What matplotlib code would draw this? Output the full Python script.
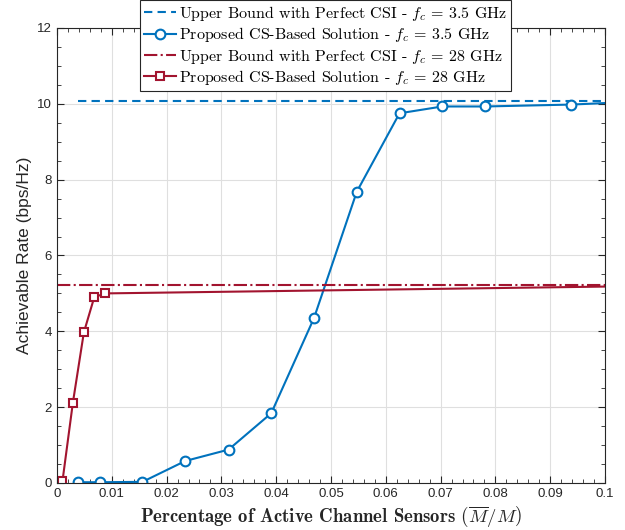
import numpy as np
import matplotlib
matplotlib.use('Agg')
import matplotlib.pyplot as plt
from matplotlib.ticker import MultipleLocator

plt.rcParams['mathtext.fontset'] = 'cm'

# data
x_35 = [0.0039, 0.0078, 0.0156, 0.0234, 0.0313, 0.0391, 0.0469, 0.0547,
        0.0625, 0.0703, 0.0781, 0.0938, 0.1]
rate_35 = [0.02, 0.02, 0.03, 0.58, 0.88, 1.84, 4.35, 7.68, 9.75, 9.93, 9.93, 9.98, 10.02]
bound_35_x = [0.0039, 0.1]
bound_35 = [10.08, 10.08]

x_28 = [0.0002, 0.001, 0.0029, 0.0049, 0.0068, 0.0088, 0.1]
rate_28 = [0.0, 0.05, 2.12, 3.97, 4.9, 5.0, 5.18]
bound_28_x = [0.0, 0.1]
bound_28 = [5.22, 5.22]

blue = '#0072BD'
red = '#A2142F'
dark = '#262626'

fig = plt.figure(figsize=(6.25, 5.3), dpi=100)
ax = fig.add_axes([0.0912, 0.0887, 0.8768, 0.8585])

ax.plot(bound_35_x, bound_35, '--', color=blue, lw=1.5, dashes=(4, 2.5),
        label=r'Upper Bound with Perfect CSI - $f_c$ = 3.5 GHz')
ax.plot(x_35, rate_35, '-o', color=blue, lw=1.5, ms=7, mfc='white', mew=1.5,
        markevery=list(range(len(x_35) - 1)),
        label=r'Proposed CS-Based Solution - $f_c$ = 3.5 GHz')
ax.plot(bound_28_x, bound_28, '-.', color=red, lw=1.5,
        label=r'Upper Bound with Perfect CSI - $f_c$ = 28 GHz')
ax.plot(x_28, rate_28, '-s', color=red, lw=1.5, ms=6, mfc='white', mew=1.5,
        markevery=list(range(len(x_28) - 1)),
        label=r'Proposed CS-Based Solution - $f_c$ = 28 GHz')

ax.set_xlim(0, 0.1)
ax.set_ylim(0, 12)
ax.set_xticks(np.arange(0, 0.1001, 0.01))
ax.set_xticklabels(['0', '0.01', '0.02', '0.03', '0.04', '0.05', '0.06',
                    '0.07', '0.08', '0.09', '0.1'])
ax.xaxis.set_minor_locator(MultipleLocator(0.002))
ax.yaxis.set_major_locator(MultipleLocator(2))
ax.yaxis.set_minor_locator(MultipleLocator(0.5))

ax.grid(True, which='major', color='#dfdfdf', lw=0.8)
ax.set_axisbelow(True)
ax.tick_params(which='both', direction='in', top=True, right=True,
               colors=dark, labelsize=9.5, labelcolor=dark)
ax.tick_params(which='major', length=5)
ax.tick_params(which='minor', length=3)
for tl in ax.get_xticklabels() + ax.get_yticklabels():
    tl.set_family('Liberation Sans')
for s in ax.spines.values():
    s.set_color(dark)
    s.set_linewidth(0.8)

ax.set_ylabel('Achievable Rate (bps/Hz)', family='Liberation Sans', fontsize=12.5,
              color=dark, labelpad=4)
ax.set_xlabel(r'Percentage of Active Channel Sensors $\left(\overline{M}/M\right)$',
              family='cmb10', fontsize=13.5, color=dark, labelpad=3)

leg = ax.legend(loc='upper center', bbox_to_anchor=(0.49, 1.062),
                prop={'family': 'cmr10', 'size': 11.5}, frameon=True,
                fancybox=False, framealpha=1, edgecolor=dark,
                labelspacing=0.15, handlelength=2.0, handletextpad=0.2,
                borderpad=0.25, borderaxespad=0.0)
leg.get_frame().set_linewidth(0.8)

fig.savefig('out.png', dpi=100)
